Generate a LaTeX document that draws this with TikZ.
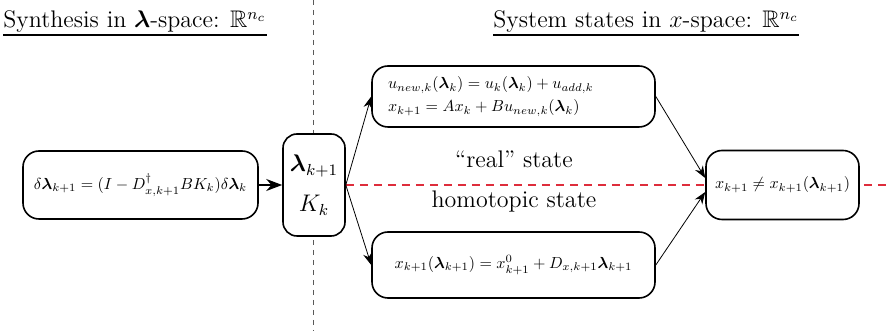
\documentclass[tikz,border=0pt]{standalone}
\usepackage{amsmath, amssymb}
\usepackage{graphicx}
\usepackage{tikz}
\usetikzlibrary{arrows.meta, positioning, backgrounds}
\newcommand{\smalleq}[1]{\scalebox{0.8}{$#1$}}
\definecolor{homred}{RGB}{222,45,60}
\tikzset{
  block/.style={draw=black, fill=white, thick, rounded corners=8pt,
                inner sep=2pt},
  lamblock/.style={draw=black, fill=white, thick, rounded corners=7pt,
                   inner sep=2pt, font=\large, align=center},
  spaceTitle/.style={anchor=base west, inner sep=0pt, font=\large},
  titleRule/.style={draw=black, line width=0.9pt},
  stateLbl/.style={anchor=base, inner sep=0pt, font=\large},
  link/.style={draw=black, -{Stealth[length=6pt, width=4.5pt]}},
  feed/.style={draw=black, thick, -{Stealth[length=8pt, width=6pt]}},
  divider/.style={draw=black!65, line width=0.5pt,
                  dash pattern=on 2.5pt off 2.5pt},
  homline/.style={draw=homred, semithick, dash pattern=on 4pt off 3pt},
}

\begin{document}
\begin{tikzpicture}[x=1pt, y=1pt]
    \useasboundingbox (0,0) rectangle (444,165.5);
    %% Titles
    \node[spaceTitle] (synTitle) at (1.5,151.5)
      {Synthesis in $\boldsymbol{\lambda}$-space: $\mathbb{R}^{n_c}$};
    \node[spaceTitle] (sysTitle) at (246.5,151.5)
      {System states in $x$-space: $\mathbb{R}^{n_c}$};
    \draw[titleRule] ([yshift=-3.5pt]synTitle.base west) -- ([yshift=-3.5pt]synTitle.base east);
    \draw[titleRule] ([yshift=-3.5pt]sysTitle.base west) -- ([yshift=-3.5pt]sysTitle.base east);
    %% Blocks
    \node[block, minimum width=117.5pt, minimum height=34pt] (delta) at (70.25,73)
      {\smalleq{\delta\boldsymbol{\lambda}_{k+1} = (I - D^{\dagger}_{x,k+1}BK_k)\delta\boldsymbol{\lambda}_k}};
    \node[lamblock, minimum width=31pt, minimum height=51pt] (lam) at (157,73)
      {$\boldsymbol{\lambda}_{k+1}$\\[6pt]$K_k$};
    \node[block, inner xsep=8pt, text width=125.5pt, align=left,
          minimum height=30.5pt] (real) at (256.75,117.25)
      {\smalleq{u_{new,k}(\boldsymbol{\lambda}_k) = u_k(\boldsymbol{\lambda}_k) + u_{add,k}}\\[-0.5pt]
       \smalleq{x_{k+1} = Ax_k + Bu_{new,k}(\boldsymbol{\lambda}_k)}};
    \node[block, minimum width=141.5pt, minimum height=33pt] (homo) at (256.75,33)
      {\smalleq{x_{k+1}(\boldsymbol{\lambda}_{k+1}) = x^0_{k+1} + D_{x,k+1}\boldsymbol{\lambda}_{k+1}}};
    \node[block, minimum width=76.5pt, minimum height=34.5pt] (ineq) at (391.25,73)
      {\smalleq{x_{k+1} \neq x_{k+1}(\boldsymbol{\lambda}_{k+1})}};
    %% State labels
    \node[stateLbl] (realLbl) at (257,81.5) {``real'' state};
    \node[stateLbl] (homoLbl) at (257,61.5) {homotopic state};
    %% Divider and homotopy line
    \coordinate (divTop) at (156.5,165.5);
    \coordinate (divBot) at (156.5,0);
    \coordinate (redEnd) at (444,73);
    \begin{scope}[on background layer]
      \draw[divider] (divTop) -- (divBot);
      \draw[homline] (lam.east) -- (redEnd);
    \end{scope}
    %% Arrows
    \draw[feed] (delta.east) -- (lam.west);
    \draw[link] (lam.east) -- (real.west);
    \draw[link] (lam.east) -- (homo.west);
    \draw[link] (real.east) -- ([yshift=3.5pt]ineq.west);
    \draw[link] (homo.east) -- ([yshift=-3.5pt]ineq.west);
\end{tikzpicture}
\end{document}
